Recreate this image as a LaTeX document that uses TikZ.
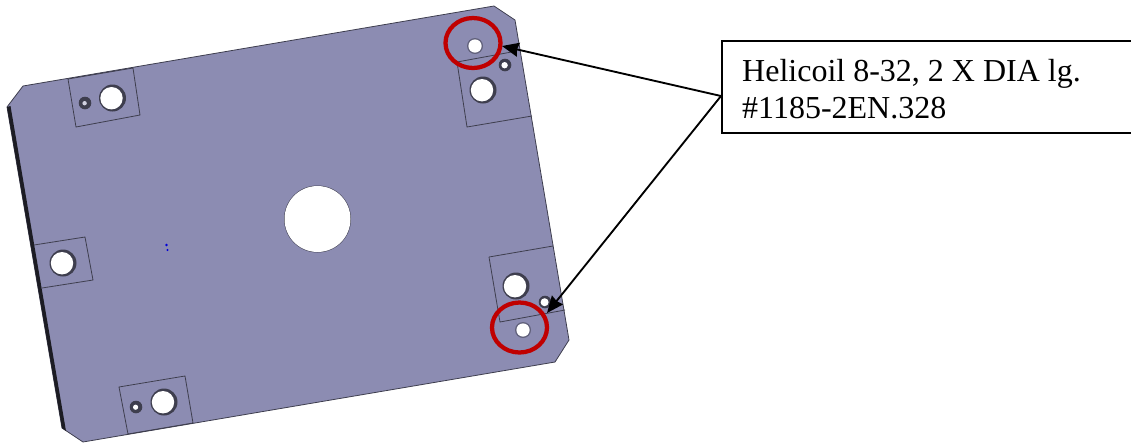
\documentclass[tikz,border=0pt]{standalone}
\usepackage{fontspec}
\setmainfont{Liberation Serif}
\usetikzlibrary{arrows.meta}
\definecolor{plate}{RGB}{140,140,178}
\definecolor{edgegrey}{RGB}{62,62,78}
\definecolor{ringred}{RGB}{192,0,0}
\tikzset{
  x=0.75pt,y=-0.75pt,
  platebody/.style={fill=plate,draw=edgegrey,line width=0.6pt},
  platerim/.style={fill=edgegrey!45!black,draw=none},
  pad/.style={draw=edgegrey,line width=0.6pt},
  holering/.style={fill=edgegrey,draw=none},
  holewhite/.style={fill=white,draw=none},
  redring/.style={draw=ringred,line width=3.2pt},
  leader/.style={draw=black,line width=1.4pt,-{Stealth[length=12.5pt,width=10.5pt,inset=1pt]}},
  notebox/.style={draw=black,line width=1.3pt,fill=white,minimum width=307.5pt,minimum height=69pt,text width=277pt,inner xsep=15pt,inner ysep=0pt,align=left,font=\fontsize{24pt}{27.7pt}\selectfont,anchor=north west}
}
\newcommand{\bighole}[2]{%
  \fill[holering] (#1,#2) circle[radius=13.5];
  \fill[holewhite] (#1-1,#2+0.2) circle[radius=11.2];}
\newcommand{\smallhole}[4]{%
  \fill[holering] (#1,#2) circle[radius=6.3];
  \fill[#4] (#1-0.4,#2+0.2) circle[radius=#3];}
\newcommand{\tapped}[2]{%
  \fill[edgegrey!55!plate] (#1,#2) circle[radius=8];
  \fill[holewhite] (#1,#2) circle[radius=6.6];}
\begin{document}
\begin{tikzpicture}
\useasboundingbox (0,0) rectangle (1131,444);
% plate
\path[platebody] (23,86) -- (494,6) -- (515,20) -- (569,340) -- (555,362) -- (83,442) -- (62,428) -- (7,107) -- cycle;
% rim on the left side
\path[platerim] (7,107) -- (62,428) -- (66,431) -- (10.5,106) -- cycle;
% pads
\draw[pad] (68,79) -- (133,68) -- (140,115) -- (76,127) -- cycle;
\draw[pad] (457,62) -- (517,51);
\draw[pad] (457,62) -- (467,127) -- (532,116);
\draw[pad] (489,257) -- (553,246);
\draw[pad] (489,257) -- (500,322) -- (565,310);
\draw[pad] (34,245) -- (85,237) -- (93,280) -- (42,288);
\draw[pad] (119,387) -- (185,376) -- (193,423) -- (128,434) -- cycle;
% holes
\bighole{112.5}{98}\smallhole{85}{103}{2.2}{plate!40!white}
\bighole{483}{90}\smallhole{505}{65}{3.2}{white}
\bighole{516}{286}\smallhole{545}{302}{4}{white}
\bighole{63}{263}
\bighole{164}{402}\smallhole{136}{407}{2.6}{white}
\tapped{475}{46}
\tapped{523}{330}
\fill[edgegrey] (317.5,219) circle[radius=33.5];
\fill[holewhite] (317.5,219) circle[radius=33];
% blue mark
\fill[blue!85!black] (166.5,245) circle[radius=1.4] (167.5,250) circle[radius=1.1];
% red rings
\draw[redring] (473,43) ellipse[x radius=27.5,y radius=25];
\draw[redring] (519.5,327.5) ellipse[x radius=27.5,y radius=25];
% note
\node[notebox] (note) at (721,40) {\spaceskip=0.25em\rule{0pt}{20pt}Helicoil 8-32, 2 X DIA lg.\\\#1185-2EN.328};
\coordinate (hub) at (721,96);
\coordinate (tipa) at (502,46);
\coordinate (tipb) at (547,313);
\draw[leader] (hub) -- (tipa);
\draw[leader] (hub) -- (tipb);
\end{tikzpicture}
\end{document}
